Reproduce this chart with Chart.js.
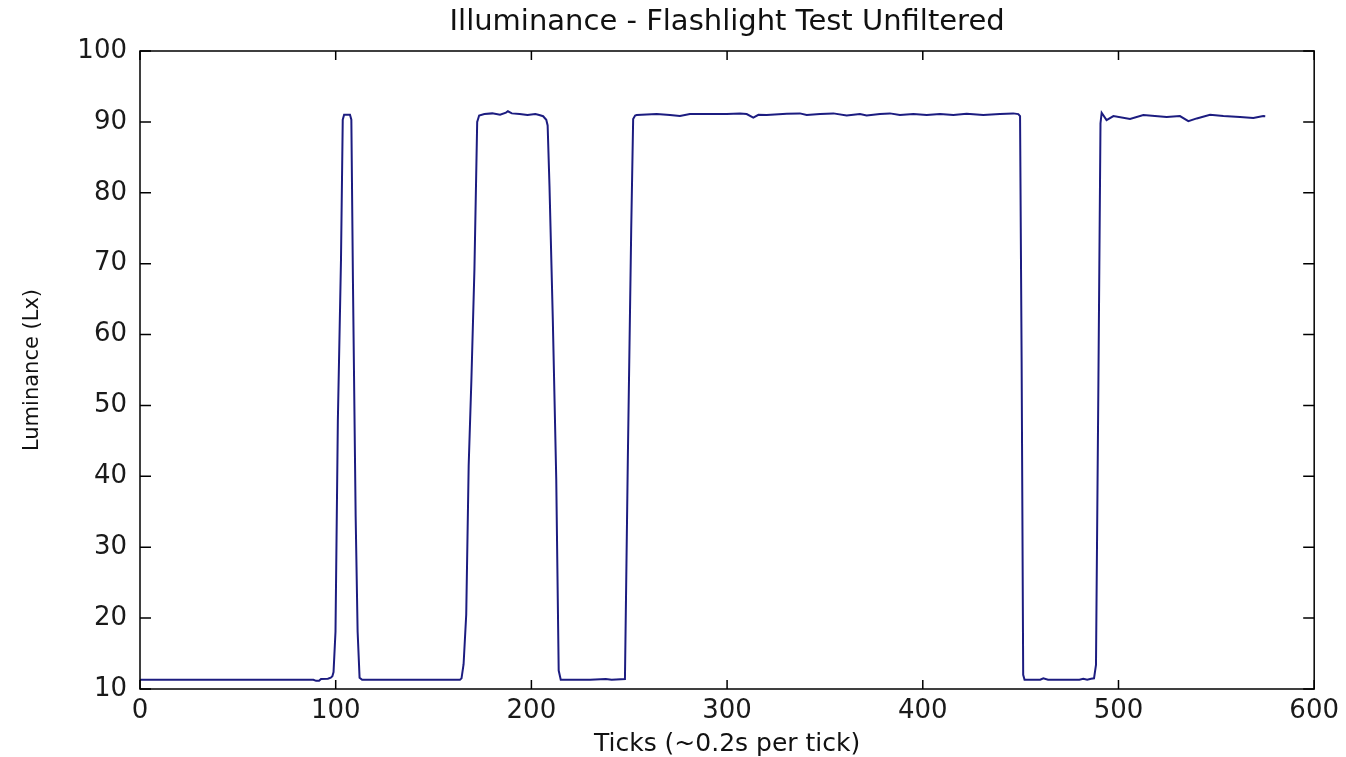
<!DOCTYPE html>
<html lang="en">
<head>
  <meta charset="UTF-8">
  <title>Illuminance - Flashlight Test Unfiltered</title>
  <script src="https://cdn.jsdelivr.net/npm/chart.js"></script>
  <style>
    html, body { margin: 0; padding: 0; background: #fff; }
    #wrap { width: 1346px; height: 757px; }
  </style>
</head>
<body>
  <div id="wrap">
    <canvas id="luxChart" width="1346" height="757"></canvas>
  </div>
  <script>
    // sample position (ticks) and reading (Lx)
    const ticks = [
      0, 40, 86, 88.6, 90, 91.5, 92.5, 96, 97.5,
      98.3, 98.9, 99.9, 101.1, 102.7, 103.6, 104.3, 107.3, 108, 108.8, 110.2, 111.2, 112.2, 113.5,
      140, 163.5, 164.3,
      165.35, 166.7, 167.95, 169.35, 170.9, 172.3, 173.3, 176, 180, 184, 187, 188, 190, 194, 198, 202, 204, 206, 207.6,
      208.3, 209.25, 210.95, 212.7, 213.95, 215,
      230, 238, 241, 247.8,
      249.3, 251, 252, 253,
      253.8, 264, 270.8, 275.9, 281, 291.3, 299.8, 306.6, 310, 313.4, 316, 320.2, 330.5, 337.2, 340.7, 347.5,
      354.3, 361.1, 367.9, 371.3, 378.1, 383.2, 388.3, 395.2, 402, 408.8, 415.6, 422.4, 430.9, 439.4, 446.2, 448.8,
      449.7, 450.5, 451.3, 452,
      460, 461.6, 464, 480, 482, 484, 486, 487.5,
      488.5, 489.7, 490.8, 491.4, 493.9, 497.4, 505.9, 512.7, 524.6, 531.4, 535.7, 540, 546.8, 553.6, 562.1, 568.9, 574, 575
    ];
    const lux = [
      11.3, 11.3, 11.3, 11.3, 11.15, 11.15, 11.4, 11.45, 11.6,
      11.8, 12.4, 18.1, 47.8, 70.5, 90.3, 91, 91, 90.3, 67.8, 34.3, 18.1, 11.6, 11.3,
      11.3, 11.3, 11.5,
      13.5, 20.5, 41.5, 53.7, 69.3, 90.0, 90.9, 91.1, 91.2, 91.0, 91.3, 91.5, 91.2, 91.1, 90.96, 91.1, 90.96, 90.8, 90.3,
      89.5, 80.9, 62.0, 39.6, 12.6, 11.3,
      11.3, 11.4, 11.3, 11.4,
      42.9, 74.7, 90.4, 90.9,
      90.96, 91.1, 90.96, 90.82, 91.1, 91.1, 91.1, 91.2, 91.1, 90.6, 91.0, 90.96, 91.15, 91.2, 90.96, 91.1,
      91.2, 90.9, 91.1, 90.9, 91.1, 91.2, 90.96, 91.1, 90.96, 91.1, 90.96, 91.15, 90.96, 91.1, 91.2, 91.1,
      90.8, 56.4, 12.0, 11.3,
      11.3, 11.5, 11.3, 11.3, 11.45, 11.3, 11.45, 11.5,
      13.4, 52.1, 89.8, 91.28, 90.25, 90.82, 90.4, 90.96, 90.68, 90.82, 90.1, 90.49, 91.0, 90.82, 90.68, 90.55, 90.82, 90.8
    ];
    const xTicks = [0, 100, 200, 300, 400, 500, 600];
    const yTicks = [10, 20, 30, 40, 50, 60, 70, 80, 90, 100];

    const points = ticks.map((t, i) => ({ x: t, y: lux[i] }));

    // matlab style box with inward ticks on all four sides
    const boxPlugin = {
      id: 'boxPlugin',
      afterDraw(chart) {
        const { ctx, chartArea: a, scales } = chart;
        ctx.save();
        ctx.strokeStyle = '#000';
        ctx.lineWidth = 1.5;
        ctx.strokeRect(a.left, a.top, a.right - a.left, a.bottom - a.top);
        ctx.beginPath();
        xTicks.forEach(v => {
          const px = scales.x.getPixelForValue(v);
          ctx.moveTo(px, a.bottom); ctx.lineTo(px, a.bottom - 9);
          ctx.moveTo(px, a.top); ctx.lineTo(px, a.top + 9);
        });
        yTicks.forEach(v => {
          const py = scales.y.getPixelForValue(v);
          ctx.moveTo(a.left, py); ctx.lineTo(a.left + 11, py);
          ctx.moveTo(a.right, py); ctx.lineTo(a.right - 11, py);
        });
        ctx.stroke();
        ctx.restore();
      }
    };

    const tickFont = { family: 'DejaVu Sans', size: 26 };

    new Chart(document.getElementById('luxChart').getContext('2d'), {
      type: 'scatter',
      data: {
        datasets: [{
          label: 'Illuminance',
          data: points,
          showLine: true,
          borderColor: '#1c1c80',
          borderWidth: 2,
          pointRadius: 0,
          tension: 0
        }]
      },
      options: {
        responsive: false,
        animation: false,
        layout: { padding: { left: 0, right: 30, top: 0, bottom: 0 } },
        plugins: {
          legend: { display: false },
          tooltip: { enabled: false },
          title: {
            display: true,
            fullSize: false, // centre over the plot box, not the canvas
            text: 'Illuminance - Flashlight Test Unfiltered',
            color: '#111',
            font: { family: 'DejaVu Sans', size: 29, weight: 'normal', lineHeight: 1 },
            padding: { top: 8, bottom: 14 }
          }
        },
        scales: {
          x: {
            type: 'linear',
            min: 0,
            max: 600,
            afterBuildTicks: s => { s.ticks = xTicks.map(v => ({ value: v })); },
            afterFit: s => { s.height = 68; },
            ticks: { font: tickFont, color: '#1a1a1a', padding: 7, maxRotation: 0 },
            grid: { drawOnChartArea: false, drawTicks: false },
            border: { display: false },
            title: {
              display: true,
              text: 'Ticks (~0.2s per tick)',
              color: '#111',
              font: { family: 'DejaVu Sans', size: 25, lineHeight: 1 },
              padding: { top: 0, bottom: 0 }
            }
          },
          y: {
            min: 10,
            max: 100,
            afterBuildTicks: s => { s.ticks = yTicks.map(v => ({ value: v })); },
            afterFit: s => { s.width = 140; },
            ticks: { font: tickFont, color: '#1a1a1a', padding: 13 },
            grid: { drawOnChartArea: false, drawTicks: false },
            border: { display: false },
            title: {
              display: true,
              text: 'Luminance (Lx)',
              color: '#111',
              font: { family: 'DejaVu Sans', size: 21, lineHeight: 1 },
              padding: { top: 22, bottom: 0 }
            }
          }
        }
      },
      plugins: [boxPlugin]
    });
  </script>
</body>
</html>
